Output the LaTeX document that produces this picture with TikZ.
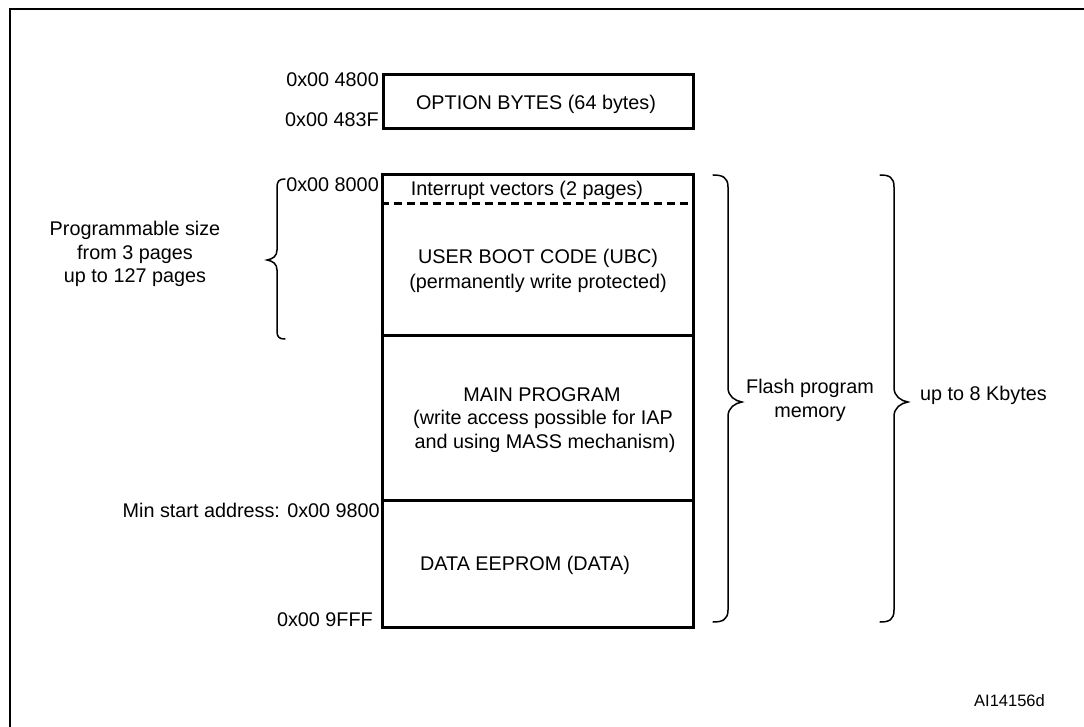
\documentclass[tikz,border=0pt]{standalone}
\usepackage{fontspec}
\setmainfont{Liberation Sans}
\begin{document}
\begin{tikzpicture}[x=1pt,y=-1pt,
  txt/.style={inner sep=0pt, font=\fontsize{19.8}{23.8}\selectfont, align=center},
  box/.style={draw, line width=3pt, inner sep=0pt},
  bracepath/.style={draw, line width=1.5pt, line cap=round},
  sepline/.style={line width=3pt}]
\useasboundingbox (0,0) rectangle (1084,727);
\clip (0,0) rectangle (1084,727);
% outer frame
\coordinate (fbl) at (10,760);
\coordinate (ftl) at (10,9);
\coordinate (ftr) at (1100,9);
\draw[line width=2.6pt] (fbl) -- (ftl) -- (ftr);
% option bytes
\node[box, minimum width=310pt, minimum height=54pt] (opt) at (538,102) {};
\node[txt, anchor=base] (optt) at (536,110) {OPTION BYTES (64 bytes)};
\node[txt, anchor=base east] (a4800) at (379,87) {0x00 4800};
\node[txt, anchor=base east] (a483f) at (379,127) {0x00 483F};
% flash block
\node[box, minimum width=311pt, minimum height=452pt] (flash) at (537.5,401) {};
\draw[sepline, dash pattern=on 8pt off 5pt] (flash.west |- 0,204) -- (flash.east |- 0,204);
\draw[sepline] (flash.west |- 0,335) -- (flash.east |- 0,335);
\draw[sepline] (flash.west |- 0,500) -- (flash.east |- 0,500);
\node[txt, anchor=base] (ivec) at (527,196) {Interrupt vectors (2 pages)};
\node[txt, anchor=base] (ubc1) at (538,264) {USER BOOT CODE (UBC)};
\node[txt, anchor=base] (ubc2) at (538,289) {(permanently write protected)};
\node[txt, anchor=base] (main1) at (542,401) {MAIN PROGRAM};
\node[txt, anchor=base] (main2) at (543,424) {(write access possible for IAP};
\node[txt, anchor=base] (main3) at (545,448) {and using MASS mechanism)};
\node[txt, anchor=base] (data) at (525,570) {DATA EEPROM (DATA)};
\node[txt, anchor=base east] (a8000) at (379,192) {0x00 8000};
\node[txt, anchor=base east] (a9800) at (380,517) {Min start address: 0x00 9800};
\node[txt, anchor=base east] (a9fff) at (373,626) {0x00 9FFF};
% left brace
\coordinate (lbt) at (285,179);
\coordinate (lbtip) at (267,260);
\coordinate (lbb) at (285,339);
\draw[bracepath] (lbt) .. controls (279,179) and (277,181) .. (277,188) -- (277,250)
  .. controls (277,256) and (273,259) .. (lbtip)
  .. controls (273,261) and (277,264) .. (277,270) -- (277,331)
  .. controls (277,337) and (279,339) .. (lbb);
\node[txt, anchor=base] (prog1) at (135,236) {Programmable size};
\node[txt, anchor=base] (prog2) at (135,260) {from 3 pages};
\node[txt, anchor=base] (prog3) at (135,283) {up to 127 pages};
% right brace 1
\coordinate (rat) at (713,175);
\coordinate (ratip) at (742,402);
\coordinate (rab) at (713,622);
\draw[bracepath] (rat) .. controls (722,175) and (728,177) .. (728,187) -- (728,388)
  .. controls (728,396) and (735,401) .. (ratip)
  .. controls (735,403) and (728,408) .. (728,416) -- (728,610)
  .. controls (728,620) and (722,622) .. (rab);
\node[txt, anchor=base] (fpm1) at (810,393) {Flash program};
\node[txt, anchor=base] (fpm2) at (810,417) {memory};
% right brace 2
\coordinate (rbt) at (880,175);
\coordinate (rbtip) at (908,402);
\coordinate (rbb) at (880,622);
\draw[bracepath] (rbt) .. controls (889,175) and (894,177) .. (894,187) -- (894,388)
  .. controls (894,396) and (901,401) .. (rbtip)
  .. controls (901,403) and (894,408) .. (894,416) -- (894,610)
  .. controls (894,620) and (889,622) .. (rbb);
\node[txt, anchor=base west] (kb) at (920,400) {up to 8 Kbytes};
\node[txt, anchor=base east, font=\fontsize{16.5}{20}\selectfont] (ai) at (1045,706) {AI14156d};
\end{tikzpicture}
\end{document}
